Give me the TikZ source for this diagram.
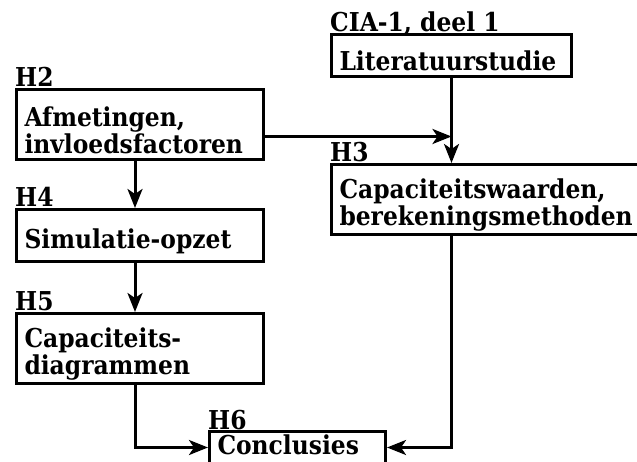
\documentclass[tikz,border=0pt]{standalone}
\usepackage{fontspec}
\setmainfont{DejaVu Serif Condensed}
\usepackage{tikz}
\usetikzlibrary{positioning,arrows.meta,calc}
\newcommand{\chfont}{\bfseries\fontsize{26}{27}\selectfont}
\tikzset{
  box/.style={draw,line width=3pt,align=left,inner xsep=8pt,inner ysep=3pt,font=\chfont,
    execute at begin node={\rule{0pt}{#1}}},
  box/.default=31pt,
  tag/.style={inner sep=0pt,anchor=base west,font=\chfont},
  arr/.style={-{Stealth[length=19pt,width=15pt,inset=5pt]},line width=3pt},
}
\begin{document}
\begin{tikzpicture}[x=1pt,y=-1pt,node distance=47pt]
\useasboundingbox (0,0) rectangle (637,462);
\node[box, text width=224pt, minimum height=42pt, anchor=north west] (lit) at (330,33) {Literatuurstudie};
\node[box, text width=231pt, minimum height=70pt, anchor=north west] (afm) at (15,88) {Afmetingen,\\invloedsfactoren};
\node[box, text width=300pt, minimum height=69pt, below right=85pt and 0pt of lit.south west] (cap) {Capaciteitswaarden,\\berekeningsmethoden};
\node[box, text width=231pt, minimum height=52pt, below=of afm] (sim) {Simulatie-opzet};
\node[box, text width=231pt, minimum height=70pt, below=49pt of sim] (diag) {Capaciteits-\\diagrammen};
\node[box=20pt, text width=160pt, execute at end node={\rule[-14pt]{0pt}{0pt}},
  below right=45pt and 193pt of diag.south west] (concl) {Conclusies};
% hoofdstuklabels
\node[tag] (tlit) at ([yshift=1pt]lit.north west) {CIA-1, deel 1};
\node[tag] (tafm) at ([yshift=1pt]afm.north west) {H2};
\node[tag] (tcap) at ([yshift=1pt]cap.north west) {H3};
\node[tag] (tsim) at ([yshift=1pt]sim.north west) {H4};
\node[tag] (tdiag) at ([yshift=1pt]diag.north west) {H5};
\node[tag] (tconcl) at ([yshift=1pt]concl.north west) {H6};
% pijlen
\draw[arr] (lit.south) -- (lit.south |- cap.north);
\draw[arr] ([yshift=-12pt]afm.east) -- ([yshift=-12pt]afm.east -| lit.south);
\draw[arr] ([xshift=-5pt]afm.south) -- ([xshift=-5pt]sim.north);
\draw[arr] ([xshift=-5pt]sim.south) -- ([xshift=-5pt]diag.north);
\draw[arr] ([xshift=-5pt]diag.south) |- ([yshift=4pt]concl.west);
\draw[arr] (lit.south |- cap.south) |- ([yshift=4pt]concl.east);
\end{tikzpicture}
\end{document}
